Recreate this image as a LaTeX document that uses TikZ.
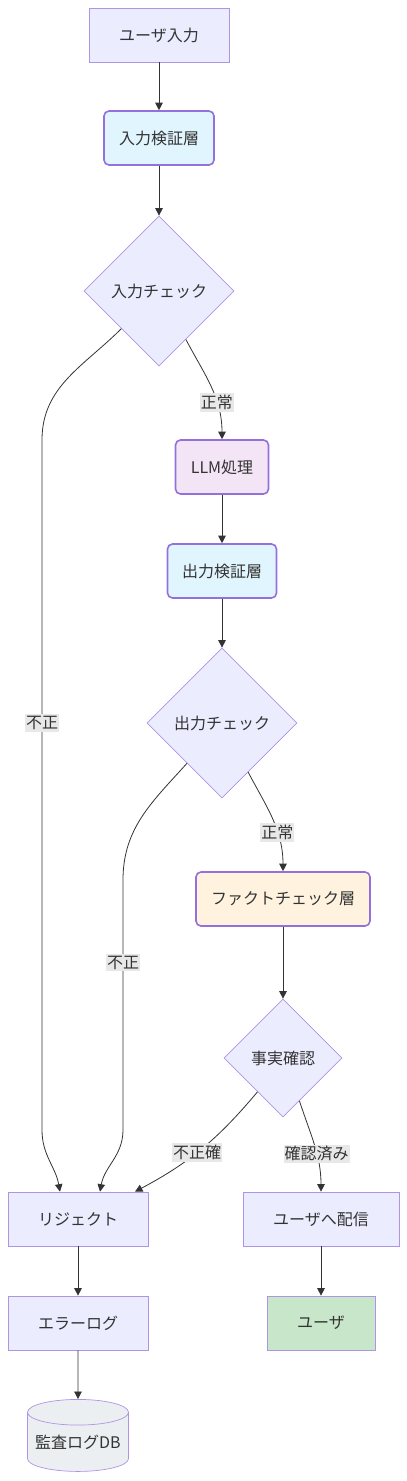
\documentclass[tikz,border=0pt]{standalone}
\usepackage{fontspec}
\setmainfont{Noto Sans CJK JP}
\usetikzlibrary{arrows.meta,shapes.geometric}
\definecolor{nodefill}{HTML}{ECECFF}
\definecolor{nodeline}{HTML}{9370DB}
\definecolor{inkgrey}{HTML}{333333}
\definecolor{labelgrey}{HTML}{E8E8E8}
\definecolor{checkblue}{HTML}{E1F5FE}
\definecolor{llmpink}{HTML}{F3E5F5}
\definecolor{factcream}{HTML}{FFF3E0}
\definecolor{usergreen}{HTML}{C8E6C9}
\definecolor{dbgrey}{HTML}{ECEFF1}

\tikzset{
  box/.style={draw=nodeline!75,fill=nodefill,line width=0.7pt,text=inkgrey,
    minimum height=54pt,inner sep=0pt,font=\fontsize{16}{19}\selectfont},
  layer/.style={box,draw=nodeline,rounded corners=5pt,line width=1.6pt},
  choice/.style={box,diamond,aspect=1,minimum width=#1,minimum height=#1},
  edge/.style={draw=inkgrey,line width=0.8pt,-{Triangle[length=7.5pt,width=7.5pt]}},
  tag/.style={fill=labelgrey,text=inkgrey,inner xsep=1pt,inner ysep=2pt,
    font=\fontsize{16}{19}\selectfont}
}

\begin{document}
\begin{tikzpicture}[x=1pt,y=1pt]
        \useasboundingbox (0,0) rectangle (407,-1481);
        % Input side
        \node[box,minimum width=140pt] (userin) at (159,-35) {ユーザ入力};
        \node[layer,fill=checkblue,minimum width=110pt] (inval) at (159,-138) {入力検証層};
        \node[choice=150pt] (inchk) at (159,-291) {入力チェック};
        % LLM and output check
        \node[layer,fill=llmpink,minimum width=93pt] (llm) at (222,-467) {LLM処理};
        \node[layer,fill=checkblue,minimum width=109pt] (outval) at (222,-571) {出力検証層};
        \node[choice=150pt] (outchk) at (222,-723) {出力チェック};
        % Fact check
        \node[layer,fill=factcream,minimum width=174pt] (fact) at (283,-899) {ファクトチェック層};
        \node[choice=118pt] (factchk) at (283,-1058) {事実確認};
        % Results
        \node[box,minimum width=140pt] (reject) at (78,-1219) {リジェクト};
        \node[box,minimum width=156pt] (deliver) at (321,-1219) {ユーザへ配信};
        \node[box,minimum width=140pt] (errlog) at (78,-1323) {エラーログ};
        \node[box,fill=usergreen,minimum width=108pt] (user) at (321,-1323) {ユーザ};
        \node[box,fill=dbgrey,cylinder,shape border rotate=90,aspect=0.3,
          minimum width=101pt,minimum height=72pt] (auditdb) at (78,-1442) {監査ログDB};
        % Straight flow
        \draw[edge] (userin) -- (inval);
        \draw[edge] (inval) -- (inchk);
        \draw[edge] (llm) -- (outval);
        \draw[edge] (outval) -- (outchk);
        \draw[edge] (fact) -- (factchk);
        \draw[edge] (reject) -- (errlog);
        \draw[edge] (errlog) -- (auditdb);
        \draw[edge] (deliver) -- (user);
        % Passing branches
        \draw[edge] (inchk.-61) to[out=-62,in=90]
          node[tag,pos=0.66]{正常} (llm.north);
        \draw[edge] (outchk.-62) to[out=-62,in=90]
          node[tag,pos=0.64]{正常} (fact.north);
        \draw[edge] (factchk.-69) to[out=-72,in=90]
          node[tag,pos=0.6]{確認済み} (deliver.north);
        % Rejected branches
        \draw[edge] (inchk.south west) to[out=-135,in=90] (42,-440)
          -- node[tag,pos=0.41]{不正} (42,-1130)
          to[out=-90,in=100] ([xshift=-18pt]reject.north);
        \draw[edge] (outchk.-131) to[out=-132,in=90] (123,-880)
          -- node[tag,pos=0.33]{不正} (123,-1130)
          to[out=-90,in=80] ([xshift=22pt]reject.north);
        \draw[edge] (factchk.-127) to[out=-130,in=28]
          node[tag,pos=0.54]{不正確} ([xshift=57pt]reject.north);
      \end{tikzpicture}
\end{document}
